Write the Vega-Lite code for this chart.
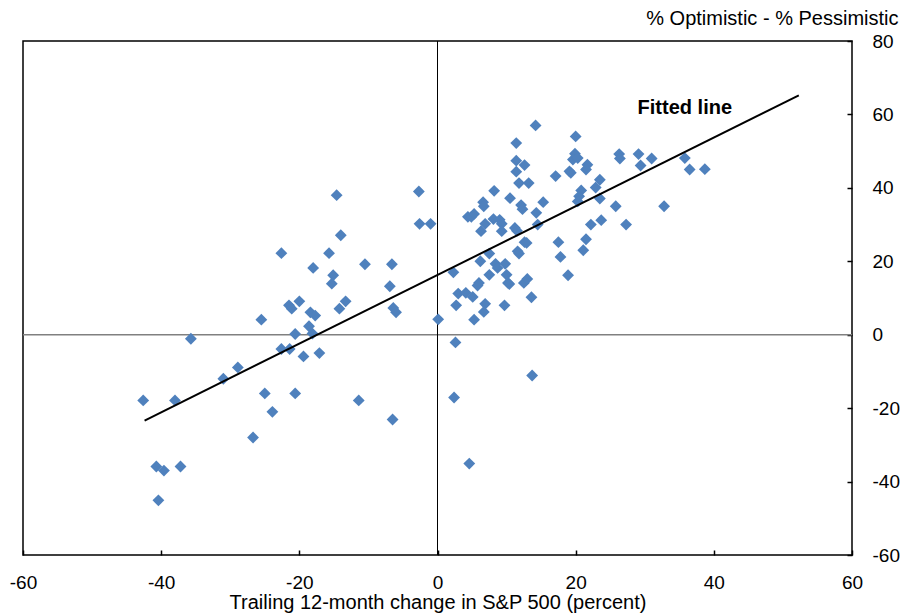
{
  "$schema": "https://vega.github.io/schema/vega-lite/v6.json",
  "width": 829,
  "height": 514,
  "autosize": {"type": "none"},
  "padding": {"left": 23, "top": 41, "right": 57, "bottom": 60},
  "background": "white",
  "config": {
    "view": {"stroke": "#000000", "strokeWidth": 1.5},
    "font": "Liberation Sans",
    "axis": {
      "grid": false,
      "domain": false,
      "ticks": true,
      "tickSize": -5,
      "tickColor": "#000000",
      "tickWidth": 1.5,
      "labelFont": "Liberation Sans",
      "labelFontSize": 19,
      "labelColor": "#000000",
      "labelFlush": false,
      "labelOverlap": false,
      "labelExpr": "'' + datum.value",
      "titleFont": "Liberation Sans",
      "titleFontSize": 20,
      "titleFontWeight": "normal",
      "titleColor": "#000000"
    },
    "axisBottom": {
      "labelPadding": 23,
      "titleY": 53,
      "titleBaseline": "alphabetic"
    },
    "axisRight": {
      "labelPadding": 25,
      "titleAngle": 0,
      "titleAlign": "right",
      "titleBaseline": "alphabetic",
      "titleX": 46,
      "titleY": -17
    }
  },
  "datasets": {
    "points": [
      {"x": -42.6, "y": -17.9}, {"x": -38.0, "y": -17.9}, {"x": -35.7, "y": -1.1}, {"x": -31.0, "y": -12.0},
      {"x": -28.9, "y": -8.9}, {"x": -26.7, "y": -28.0}, {"x": -25.0, "y": -16.0}, {"x": -23.9, "y": -21.0},
      {"x": -25.5, "y": 4.1}, {"x": -22.6, "y": 22.2}, {"x": -22.6, "y": -3.9}, {"x": -21.4, "y": -3.9},
      {"x": -21.5, "y": 8.0}, {"x": -21.1, "y": 7.1}, {"x": -20.0, "y": 9.1}, {"x": -20.6, "y": 0.2},
      {"x": -19.4, "y": -5.9}, {"x": -20.6, "y": -16.0}, {"x": -18.6, "y": 2.3}, {"x": -18.4, "y": 6.1},
      {"x": -17.7, "y": 5.2}, {"x": -18.1, "y": 0.3}, {"x": -18.0, "y": 18.2}, {"x": -17.1, "y": -5.0},
      {"x": -15.7, "y": 22.2}, {"x": -15.1, "y": 16.2}, {"x": -15.3, "y": 13.9}, {"x": -14.6, "y": 38.0},
      {"x": -14.0, "y": 27.1}, {"x": -13.3, "y": 9.1}, {"x": -14.2, "y": 7.1}, {"x": -11.4, "y": -17.9},
      {"x": -10.5, "y": 19.2}, {"x": -6.9, "y": 13.2}, {"x": -6.6, "y": 19.2}, {"x": -6.4, "y": 7.3},
      {"x": -6.0, "y": 6.1}, {"x": -6.5, "y": -23.1}, {"x": -2.7, "y": 39.0}, {"x": -2.6, "y": 30.2},
      {"x": -1.0, "y": 30.2}, {"x": 0.1, "y": 4.2}, {"x": -40.7, "y": -35.9}, {"x": -39.6, "y": -37.0},
      {"x": -37.2, "y": -35.9}, {"x": -40.4, "y": -45.1},
      {"x": 14.2, "y": 57.0}, {"x": 20.0, "y": 54.0}, {"x": 11.4, "y": 52.2}, {"x": 19.9, "y": 49.3},
      {"x": 19.6, "y": 47.7}, {"x": 20.3, "y": 48.1}, {"x": 26.3, "y": 49.2}, {"x": 26.4, "y": 48.0},
      {"x": 29.1, "y": 49.2}, {"x": 29.4, "y": 46.1}, {"x": 31.0, "y": 48.0}, {"x": 35.8, "y": 48.1},
      {"x": 36.5, "y": 45.0}, {"x": 38.7, "y": 45.1}, {"x": 11.4, "y": 47.4}, {"x": 11.4, "y": 44.4},
      {"x": 12.6, "y": 46.2}, {"x": 21.7, "y": 46.3}, {"x": 21.5, "y": 45.0}, {"x": 19.1, "y": 44.5},
      {"x": 19.3, "y": 44.1}, {"x": 17.1, "y": 43.2}, {"x": 11.8, "y": 41.3}, {"x": 13.2, "y": 41.3},
      {"x": 23.5, "y": 42.2}, {"x": 22.9, "y": 40.1}, {"x": 20.8, "y": 39.3}, {"x": 20.5, "y": 37.7},
      {"x": 20.3, "y": 36.3}, {"x": 23.5, "y": 37.1}, {"x": 8.2, "y": 39.2}, {"x": 10.5, "y": 37.2},
      {"x": 6.6, "y": 36.1}, {"x": 6.7, "y": 35.0}, {"x": 12.1, "y": 35.3}, {"x": 12.3, "y": 34.2},
      {"x": 15.3, "y": 36.1}, {"x": 25.8, "y": 35.0}, {"x": 32.8, "y": 35.0}, {"x": 4.4, "y": 32.1},
      {"x": 4.9, "y": 32.1}, {"x": 5.3, "y": 32.9}, {"x": 8.1, "y": 31.5}, {"x": 9.0, "y": 31.3},
      {"x": 9.3, "y": 30.2}, {"x": 6.9, "y": 30.2}, {"x": 6.3, "y": 28.2}, {"x": 9.3, "y": 28.2},
      {"x": 14.3, "y": 33.2}, {"x": 14.5, "y": 30.0}, {"x": 11.2, "y": 29.1}, {"x": 11.5, "y": 28.3},
      {"x": 22.2, "y": 30.0}, {"x": 23.7, "y": 31.2}, {"x": 27.3, "y": 30.0}, {"x": 17.5, "y": 25.2},
      {"x": 21.5, "y": 26.0}, {"x": 21.1, "y": 23.0}, {"x": 17.8, "y": 21.2}, {"x": 18.9, "y": 16.2},
      {"x": 12.6, "y": 25.2}, {"x": 12.9, "y": 25.0}, {"x": 11.6, "y": 22.7}, {"x": 11.8, "y": 22.1},
      {"x": 7.5, "y": 22.1}, {"x": 6.2, "y": 20.0}, {"x": 8.4, "y": 19.3}, {"x": 8.7, "y": 18.2},
      {"x": 9.8, "y": 19.3}, {"x": 2.3, "y": 17.0}, {"x": 7.5, "y": 16.3}, {"x": 10.0, "y": 16.3},
      {"x": 6.0, "y": 14.1}, {"x": 5.8, "y": 13.4}, {"x": 10.2, "y": 14.1}, {"x": 10.4, "y": 13.8},
      {"x": 12.5, "y": 14.1}, {"x": 13.0, "y": 15.2}, {"x": 3.0, "y": 11.2}, {"x": 4.1, "y": 11.4},
      {"x": 5.1, "y": 10.3}, {"x": 2.7, "y": 8.0}, {"x": 6.9, "y": 8.4}, {"x": 6.7, "y": 6.2},
      {"x": 9.7, "y": 8.0}, {"x": 13.6, "y": 10.2}, {"x": 5.3, "y": 4.1}, {"x": 2.6, "y": -2.1},
      {"x": 13.7, "y": -11.1}, {"x": 2.4, "y": -17.1}, {"x": 4.6, "y": -35.1}
    ],
    "fit": [{"x": -42.4, "y": -23.4}, {"x": 52.3, "y": 65.2}],
    "vzero": [{"x": 0}],
    "hzero": [{"y": 0}],
    "label": [{"x": 35.8, "y": 61.8, "text": "Fitted line"}]
  },
  "layer": [
    {
      "data": {"name": "hzero"},
      "mark": {"type": "rule", "color": "#808080", "strokeWidth": 1.5},
      "encoding": {
        "y": {"field": "y", "type": "quantitative", "scale": {"domain": [-60, 80], "nice": false, "zero": false},
              "axis": {"orient": "right", "title": "% Optimistic - % Pessimistic", "values": [-60, -40, -20, 0, 20, 40, 60, 80]}}
      }
    },
    {
      "data": {"name": "vzero"},
      "mark": {"type": "rule", "color": "#000000", "strokeWidth": 1},
      "encoding": {
        "x": {"field": "x", "type": "quantitative", "scale": {"domain": [-60, 60], "nice": false, "zero": false},
              "axis": {"orient": "bottom", "title": "Trailing 12-month change in S&P 500 (percent)", "values": [-60, -40, -20, 0, 20, 40, 60]}}
      }
    },
    {
      "data": {"name": "points"},
      "mark": {"type": "point", "shape": "diamond", "filled": true, "size": 140, "color": "#4F81BD", "opacity": 1},
      "encoding": {
        "x": {"field": "x", "type": "quantitative",
              "axis": {"orient": "bottom", "title": "Trailing 12-month change in S&P 500 (percent)", "values": [-60, -40, -20, 0, 20, 40, 60]}},
        "y": {"field": "y", "type": "quantitative",
              "axis": {"orient": "right", "title": "% Optimistic - % Pessimistic", "values": [-60, -40, -20, 0, 20, 40, 60, 80]}}
      }
    },
    {
      "data": {"name": "fit"},
      "mark": {"type": "line", "color": "#000000", "strokeWidth": 2},
      "encoding": {
        "x": {"field": "x", "type": "quantitative",
              "axis": {"orient": "bottom", "title": "Trailing 12-month change in S&P 500 (percent)", "values": [-60, -40, -20, 0, 20, 40, 60]}},
        "y": {"field": "y", "type": "quantitative",
              "axis": {"orient": "right", "title": "% Optimistic - % Pessimistic", "values": [-60, -40, -20, 0, 20, 40, 60, 80]}}
      }
    },
    {
      "data": {"name": "label"},
      "mark": {"type": "text", "font": "Liberation Sans", "fontSize": 20, "fontWeight": "bold", "color": "#000000", "align": "center", "baseline": "middle"},
      "encoding": {
        "x": {"field": "x", "type": "quantitative",
              "axis": {"orient": "bottom", "title": "Trailing 12-month change in S&P 500 (percent)", "values": [-60, -40, -20, 0, 20, 40, 60]}},
        "y": {"field": "y", "type": "quantitative",
              "axis": {"orient": "right", "title": "% Optimistic - % Pessimistic", "values": [-60, -40, -20, 0, 20, 40, 60, 80]}},
        "text": {"field": "text"}
      }
    }
  ]
}
